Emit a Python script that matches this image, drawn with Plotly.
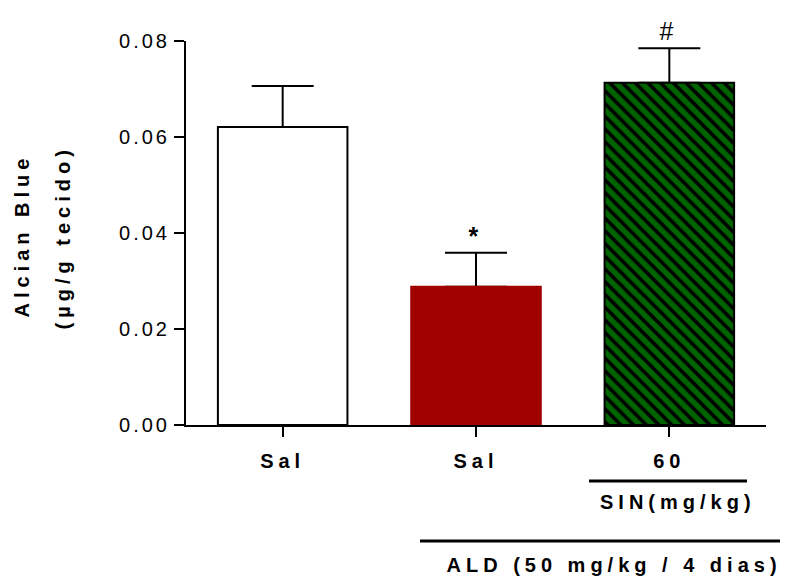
import plotly.graph_objects as go

categories = ["Sal", "Sal ", "60"]
tick_labels = ["Sal", "Sal", "60"]
means = [0.0621, 0.0288, 0.0713]
sem = [0.0085, 0.0071, 0.0072]
bar_colors = ["#FFFFFF", "#A00000", "#006400"]
line_colors = ["#000000", "#A00000", "#000000"]
patterns = ["", "", "\\"]
marks = ["", "<b>*</b>", "#"]

FONT = "Liberation Sans, Arial, sans-serif"

# plot area in window pixels: x 186..766, y 41..425 (page has 8px body margin)
def px(xp):
    return (xp - 186) / 580.0

def py(yp):
    return (425 - yp) / 384.0

fig = go.Figure()
# error bars first (drawn underneath the bars, so the lower cap is hidden)
for i, (c, m, s) in enumerate(zip(categories, means, sem)):
    fig.add_trace(go.Bar(
        x=[c], y=[m], width=0.67,
        marker=dict(color="rgba(0,0,0,0)", line=dict(width=0)),
        error_y=dict(type="data", array=[s], arrayminus=[0], symmetric=False,
                     color="black", thickness=2, width=31),
        showlegend=False, hoverinfo="skip",
    ))
for i, (c, m) in enumerate(zip(categories, means)):
    fig.add_trace(go.Bar(
        x=[c], y=[m], width=0.67,
        marker=dict(color=bar_colors[i],
                    line=dict(color=line_colors[i], width=2),
                    pattern=dict(shape=patterns[i], fgcolor="black", bgcolor=bar_colors[i],
                                 fgopacity=1, size=9, solidity=0.4, fillmode="replace")),
        showlegend=False,
    ))

for i, (m, s, t) in enumerate(zip(means, sem, marks)):
    if t:
        fig.add_annotation(x=i, y=m + s, text=t, showarrow=False, xanchor="center",
                           yanchor="bottom", yshift=1,
                           font=dict(family=FONT, size=25, color="black"))

# group labels / brackets
fig.add_shape(type="line", xref="paper", yref="paper", x0=px(589), x1=px(747),
              y0=py(481), y1=py(481), line=dict(color="black", width=3))
fig.add_annotation(xref="paper", yref="paper", x=px(678), y=py(502),
                   text="<b>SIN(mg/kg)</b>", showarrow=False,
                   xanchor="center", yanchor="middle",
                   font=dict(family=FONT, size=20, color="black"))
fig.add_shape(type="line", xref="paper", yref="paper", x0=px(420), x1=px(780),
              y0=py(541), y1=py(541), line=dict(color="black", width=3))
fig.add_annotation(xref="paper", yref="paper", x=px(614), y=py(565),
                   text="<b>ALD (50 mg/kg / 4 dias)</b>", showarrow=False,
                   xanchor="center", yanchor="middle",
                   font=dict(family=FONT, size=20, color="black"))

# y-axis title (two lines)
fig.add_annotation(xref="paper", yref="paper", x=px(22), y=py(236),
                   text="<b>Alcian Blue</b>", showarrow=False,
                   xanchor="center", yanchor="middle",
                   textangle=-90, font=dict(family=FONT, size=20, color="black"))
fig.add_annotation(xref="paper", yref="paper", x=px(63), y=py(238),
                   text="<b>(µg/g tecido)</b>", showarrow=False,
                   xanchor="center", yanchor="middle",
                   textangle=-90, font=dict(family=FONT, size=20, color="black"))

fig.update_layout(
    width=781, height=569,
    margin=dict(l=178, r=23, t=33, b=152),
    plot_bgcolor="white", paper_bgcolor="white",
    font=dict(family=FONT, color="black"),
    barmode="overlay",
)
fig.update_xaxes(
    type="category", range=[-0.5, 2.5],
    categoryorder="array", categoryarray=categories,
    tickvals=categories, ticktext=["<b>%s</b>" % t for t in tick_labels],
    tickfont=dict(family=FONT, size=20, color="black"),
    ticklabelstandoff=7,
    showline=True, linecolor="black", linewidth=2,
    ticks="outside", ticklen=10, tickwidth=2, tickcolor="black",
    showgrid=False, zeroline=False,
)
fig.update_yaxes(
    range=[0, 0.08], tickvals=[0, 0.02, 0.04, 0.06, 0.08], tickformat=".2f",
    tickfont=dict(family=FONT, size=20, color="black"),
    showline=True, linecolor="black", linewidth=2,
    ticks="outside", ticklen=10, tickwidth=2, tickcolor="black",
    showgrid=False, zeroline=False,
)

spacing_js = (
    "var s=document.createElement('style');"
    "s.textContent='.xtick text, .annotation-text {letter-spacing:5px;} "
    ".ytick text {letter-spacing:3px;}';"
    "document.head.appendChild(s);"
)

fig.write_html("out.html", post_script=spacing_js)
